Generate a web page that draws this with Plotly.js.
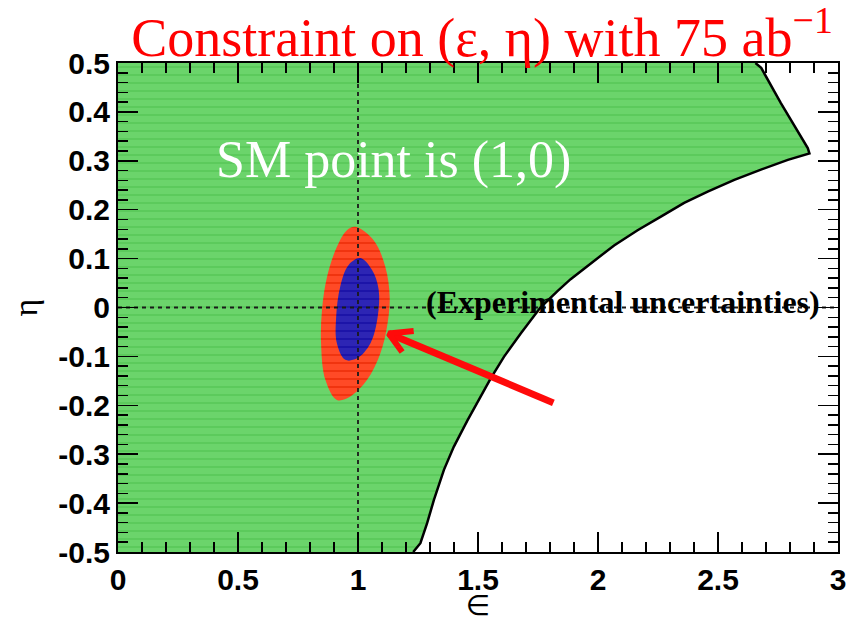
<!DOCTYPE html>
<html>
<head>
<meta charset="utf-8">
<script src="https://cdn.plot.ly/plotly-3.0.1.min.js"></script>
<style>html,body{margin:0;padding:0;background:#fff;}#chart{width:853px;height:622px;}</style>
</head>
<body>
<div id="chart"></div>
<script>
// ---- data ----
const epsRange = [0, 3];
const etaRange = [-0.5, 0.5];
const smPoint = [1, 0];

// allowed-region boundary (upper right edge, tip, then curved lower edge)
const boundaryEps = [2.656, 2.68, 2.762, 2.874, 2.881, 2.791, 2.679, 2.568, 2.457, 2.359, 2.262, 2.165, 2.067, 1.956, 1.886, 1.830, 1.760, 1.678, 1.608, 1.553, 1.511, 1.455, 1.399, 1.358, 1.316, 1.288, 1.26, 1.23];
const boundaryEta = [0.5, 0.49, 0.418, 0.326, 0.315, 0.302, 0.282, 0.261, 0.237, 0.214, 0.186, 0.158, 0.127, 0.085, 0.058, 0.033, 0.0, -0.053, -0.101, -0.145, -0.182, -0.232, -0.285, -0.332, -0.394, -0.441, -0.482, -0.5];

// outer (red) contour
const outerEps = [0.989, 1.066, 1.114, 1.132, 1.121, 1.093, 1.038, 0.968, 0.912, 0.864, 0.846, 0.850, 0.871, 0.912, 0.954, 0.989];
const outerEta = [0.165, 0.137, 0.083, 0.022, -0.039, -0.094, -0.148, -0.182, -0.189, -0.148, -0.073, -0.005, 0.063, 0.124, 0.158, 0.165];

// inner (blue) contour
const innerEps = [1.010, 1.058, 1.086, 1.082, 1.052, 0.996, 0.947, 0.912, 0.909, 0.926, 0.961, 1.010];
const innerEta = [0.101, 0.077, 0.037, -0.019, -0.073, -0.104, -0.107, -0.073, -0.019, 0.043, 0.087, 0.101];

// arrow: tail -> tip, and the two head arms
const arrowShaftEps = [1.814, 1.128];
const arrowShaftEta = [-0.195, -0.053];
const arrowHeadEps = [1.232, 1.128, 1.184];
const arrowHeadEta = [-0.048, -0.053, -0.091];

const xTickVals = [0, 0.5, 1, 1.5, 2, 2.5, 3];
const xTickText = ["0", "0.5", "1", "1.5", "2", "2.5", "3"];
const yTickVals = [-0.5, -0.4, -0.3, -0.2, -0.1, 0, 0.1, 0.2, 0.3, 0.4, 0.5];
const yTickText = ["-0.5", "-0.4", "-0.3", "-0.2", "-0.1", "0", "0.1", "0.2", "0.3", "0.4", "0.5"];

const titleText = "Constraint on (ε, η) with 75 ab<sup>−1</sup>";
const smLabel = "SM point is (1,0)";
const expLabel = "(Experimental uncertainties)";

// ---- build traces ----
const regionEps = [epsRange[0], epsRange[0]].concat(boundaryEps).concat([epsRange[0]]);
const regionEta = [etaRange[0], etaRange[1]].concat(boundaryEta).concat([etaRange[0]]);

const traces = [
  {x: regionEps, y: regionEta, type: 'scatter', mode: 'lines', fill: 'toself',
   fillcolor: '#69d269', line: {width: 0, color: 'rgba(0,0,0,0)'},
   fillpattern: {shape: '-', bgcolor: '#6bd46b', fgcolor: '#58c858', size: 8, solidity: 0.2},
   hoverinfo: 'skip'},
  {x: boundaryEps, y: boundaryEta, type: 'scatter', mode: 'lines',
   line: {color: '#000', width: 2.5}, hoverinfo: 'skip'},
  {x: outerEps, y: outerEta, type: 'scatter', mode: 'lines', fill: 'toself',
   fillcolor: '#ff4422', line: {width: 0, color: 'rgba(0,0,0,0)', shape: 'spline'},
   fillpattern: {shape: '-', bgcolor: '#ff4a26', fgcolor: '#f0340f', size: 8, solidity: 0.25},
   hoverinfo: 'skip'},
  {x: innerEps, y: innerEta, type: 'scatter', mode: 'lines', fill: 'toself',
   fillcolor: '#2a22b0', line: {width: 0, color: 'rgba(0,0,0,0)', shape: 'spline'},
   fillpattern: {shape: '-', bgcolor: '#2d25b4', fgcolor: '#1c14a8', size: 8, solidity: 0.25},
   hoverinfo: 'skip'},
  {x: [smPoint[0], smPoint[0]], y: etaRange, type: 'scatter', mode: 'lines',
   line: {color: '#1a1a1a', width: 1.8, dash: '4px,4px'}, hoverinfo: 'skip'},
  {x: epsRange, y: [smPoint[1], smPoint[1]], type: 'scatter', mode: 'lines',
   line: {color: '#1a1a1a', width: 1.8, dash: '4px,4px'}, hoverinfo: 'skip'},
  {x: arrowShaftEps, y: arrowShaftEta, type: 'scatter', mode: 'lines',
   line: {color: '#ff0a0a', width: 7}, hoverinfo: 'skip'},
  {x: arrowHeadEps, y: arrowHeadEta, type: 'scatter', mode: 'lines',
   line: {color: '#ff0a0a', width: 6}, hoverinfo: 'skip'}
];

const tickFont = {family: 'Liberation Sans, Arial, sans-serif', size: 30, color: '#000', weight: 'bold'};

const layout = {
  width: 853, height: 622,
  margin: {l: 118, r: 15, t: 63, b: 70},
  paper_bgcolor: '#fff', plot_bgcolor: '#fff',
  showlegend: false,
  title: {text: titleText, x: 482/853, xanchor: 'center', xref: 'container',
          y: 1 - 37/622, yref: 'container', yanchor: 'middle',
          font: {family: 'Liberation Serif, Times New Roman, serif', size: 54, color: '#ff0000'}},
  xaxis: {range: epsRange, tickvals: xTickVals, ticktext: xTickText, tickfont: tickFont,
          ticks: 'inside', ticklen: 20, tickwidth: 1.5, tickcolor: '#000',
          minor: {dtick: 0.1, ticks: 'inside', ticklen: 10, tickwidth: 1.5, tickcolor: '#000'},
          showline: true, linecolor: '#000', linewidth: 2, mirror: 'ticks',
          showgrid: false, zeroline: false, fixedrange: true,
          title: {text: '∈', standoff: 9, font: {family: 'DejaVu Sans, sans-serif', size: 28, color: '#000'}}},
  yaxis: {range: etaRange, tickvals: yTickVals, ticktext: yTickText, tickfont: tickFont,
          ticks: 'inside', ticklen: 20, tickwidth: 1.5, tickcolor: '#000',
          minor: {dtick: 0.02, ticks: 'inside', ticklen: 10, tickwidth: 1.5, tickcolor: '#000'},
          showline: true, linecolor: '#000', linewidth: 2, mirror: 'ticks',
          showgrid: false, zeroline: false, fixedrange: true,
          title: {text: 'η', standoff: 10, font: {family: 'Liberation Serif, serif', size: 34, color: '#000'}}},
  annotations: [
    {text: smLabel, xref: 'x', yref: 'y', x: 1.148, y: 0.302, showarrow: false,
     xanchor: 'center', yanchor: 'middle',
     font: {family: 'Liberation Serif, Times New Roman, serif', size: 52, color: '#ffffff'}},
    {text: expLabel, xref: 'x', yref: 'y', x: 2.104, y: 0.011, showarrow: false,
     xanchor: 'center', yanchor: 'middle',
     font: {family: 'Liberation Serif, Times New Roman, serif', size: 32, color: '#000', weight: 'bold'}}
  ]
};

Plotly.newPlot('chart', traces, layout, {displayModeBar: false, staticPlot: true});
</script>
</body>
</html>
